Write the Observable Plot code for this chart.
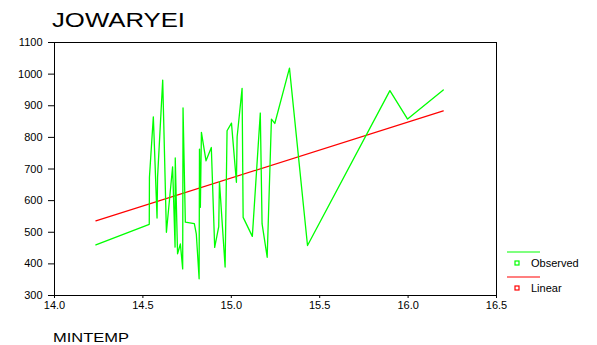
<!DOCTYPE html>
<html>
<head>
<meta charset="utf-8">
<script src="https://cdn.jsdelivr.net/npm/d3@7"></script>
<script src="https://cdn.jsdelivr.net/npm/@observablehq/plot@0.6"></script>
<style>
  html, body { margin: 0; padding: 0; background: #fff; }
  #chart svg { display: block; }
</style>
</head>
<body>
<div id="chart"></div>
<script>
// Observed series (MINTEMP vs JOWARYEI)
const obsX = [14.234, 14.536, 14.537, 14.559, 14.580, 14.583, 14.612, 14.633, 14.668, 14.682,
              14.683, 14.696, 14.712, 14.725, 14.727, 14.740, 14.791, 14.802, 14.818, 14.820,
              14.825, 14.831, 14.857, 14.887, 14.906, 14.929, 14.933, 14.965, 14.976, 15.001,
              15.029, 15.033, 15.061, 15.067, 15.119, 15.164, 15.174, 15.203, 15.227, 15.246,
              15.329, 15.431, 15.897, 15.997, 16.199];
const obsY = [460, 525, 674, 865, 545, 674, 981, 500, 707, 453,
              735, 432, 463, 384, 893, 532, 527, 495, 353, 763,
              579, 816, 726, 768, 452, 518, 660, 390, 821, 845,
              658, 802, 955, 547, 487, 877, 527, 421, 858, 844,
              1019, 458, 948, 858, 950];
// Linear fit series
const linX = [14.234, 16.199];
const linY = [536, 884];
// Axis ticks
const xTicks = [14.0, 14.5, 15.0, 15.5, 16.0, 16.5];
const yTicks = [300, 400, 500, 600, 700, 800, 900, 1000, 1100];
const seriesNames = ["Observed", "Linear"];
const seriesColors = ["#00ff00", "#ff0000"];

const observed = obsX.map((x, i) => ({x, y: obsY[i]}));
const linear = linX.map((x, i) => ({x, y: linY[i]}));

const chart = Plot.plot({
  width: 597,
  height: 345,
  marginLeft: 54,
  marginRight: 101,
  marginTop: 42,
  marginBottom: 50,
  style: {fontFamily: "'Liberation Sans', Arial, sans-serif", fontSize: "11px", background: "#fff", color: "#000"},
  x: {domain: [14, 16.5], ticks: xTicks, tickFormat: d3.format(".1f"), tickSize: 3, tickPadding: 3, label: null},
  y: {domain: [300, 1100], ticks: yTicks, tickFormat: d3.format("d"), tickSize: 6, tickPadding: 6, label: null},
  marks: [
    Plot.frame({stroke: "#000", strokeWidth: 1}),
    Plot.line(linear, {x: "x", y: "y", stroke: seriesColors[1], strokeWidth: 1.2}),
    Plot.line(observed, {x: "x", y: "y", stroke: seriesColors[0], strokeWidth: 1.3})
  ]
});

document.getElementById("chart").appendChild(chart);

const svg = d3.select(chart);
const font = "'Liberation Sans', Arial, sans-serif";

// Title
svg.append("text")
  .attr("x", 52).attr("y", 27)
  .attr("text-anchor", "start")
  .attr("font-family", font)
  .attr("font-size", 20)
  .attr("textLength", 133).attr("lengthAdjust", "spacingAndGlyphs")
  .attr("fill", "#000")
  .text("JOWARYEI");

// X axis name
svg.append("text")
  .attr("x", 53).attr("y", 342)
  .attr("text-anchor", "start")
  .attr("font-family", font)
  .attr("font-size", 13)
  .attr("textLength", 76).attr("lengthAdjust", "spacingAndGlyphs")
  .attr("fill", "#000")
  .text("MINTEMP");

// Legend
const leg = svg.append("g");
const legY = [252, 277];
seriesNames.forEach((name, i) => {
  const y0 = legY[i];
  leg.append("line").attr("x1", 507).attr("x2", 540).attr("y1", y0).attr("y2", y0)
    .attr("stroke", seriesColors[i]).attr("stroke-width", 1.2);
  leg.append("rect").attr("x", 515).attr("y", y0 + 9).attr("width", 4).attr("height", 4)
    .attr("fill", "none").attr("stroke", seriesColors[i]).attr("stroke-width", 1.2);
  leg.append("text").attr("x", 531).attr("y", y0 + 15)
    .attr("text-anchor", "start")
    .attr("font-family", font)
    .attr("font-size", 11).attr("fill", "#000")
    .text(name);
});
</script>
</body>
</html>
